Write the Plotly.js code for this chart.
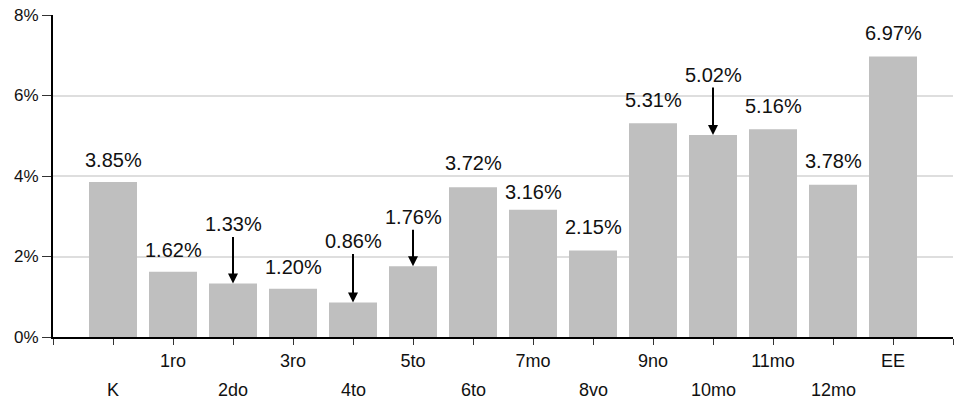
<!DOCTYPE html>
<html>
<head>
<meta charset="utf-8">
<script src="https://cdn.plot.ly/plotly-3.0.1.min.js"></script>
<style>html,body{margin:0;padding:0;background:#fff;}#chart{width:960px;height:402px;}</style>
</head>
<body>
<div id="chart"></div>
<script>
// ---- data ----
var categories = ["K","1ro","2do","3ro","4to","5to","6to","7mo","8vo","9no","10mo","11mo","12mo","EE"];
var values = [3.85, 1.62, 1.33, 1.20, 0.86, 1.76, 3.72, 3.16, 2.15, 5.31, 5.02, 5.16, 3.78, 6.97];
var yTickValues = [0, 2, 4, 6, 8];
var yTickLabels = ["0%", "2%", "4%", "6%", "8%"];

// ---- label styling (pixel offsets of value labels above bars) ----
var labelArrow = [false,false,true,false,true,true,false,false,false,false,true,false,false,false];
var labelLift  = [22, 22, 59, 22, 61, 49, 24, 18, 23, 23, 60, 23, 24, 23];

var FONT = "Liberation Sans, Arial, sans-serif";
var idx = categories.map(function(c, i){ return i; });

var tickvals = [], ticktext = [];
for (var t = -1; t <= categories.length; t++) {
  tickvals.push(t);
  ticktext.push(t >= 0 && t < categories.length && t % 2 === 1 ? categories[t] : "");
}

var annotations = [];
values.forEach(function(v, i){
  var txt = v.toFixed(2) + "%";
  if (labelArrow[i]) {
    annotations.push({
      x: idx[i], y: v, xref: "x", yref: "y", text: txt,
      showarrow: true, ax: 0, ay: -labelLift[i],
      arrowhead: 2, arrowsize: 1, arrowwidth: 2, arrowcolor: "#000", standoff: 0,
      font: {family: FONT, size: 20, color: "#111"}
    });
  } else {
    annotations.push({
      x: idx[i], y: v, xref: "x", yref: "y", text: txt,
      showarrow: false, yanchor: "middle", yshift: labelLift[i],
      font: {family: FONT, size: 20, color: "#111"}
    });
  }
});
// lower row of category labels (even positions)
categories.forEach(function(c, i){
  if (i % 2 === 0) {
    annotations.push({
      x: idx[i], y: 0, xref: "x", yref: "paper", text: c,
      showarrow: false, yanchor: "middle", yshift: -53,
      font: {family: FONT, size: 18, color: "#111"}
    });
  }
});

var trace = {
  type: "bar",
  x: idx,
  y: values,
  width: 0.8,
  marker: {color: "#bfbfbf"},
  hoverinfo: "skip"
};

var layout = {
  width: 960, height: 402,
  margin: {l: 53, r: 7, t: 15, b: 65},
  paper_bgcolor: "#fff", plot_bgcolor: "#fff",
  showlegend: false,
  font: {family: FONT, size: 18, color: "#111"},
  xaxis: {
    type: "linear",
    range: [-1, categories.length],
    tickmode: "array", tickvals: tickvals, ticktext: ticktext,
    ticks: "outside", ticklen: 6, tickwidth: 1, tickcolor: "#333",
    showgrid: false, zeroline: false,
    showline: true, linecolor: "#000", linewidth: 2,
    tickfont: {family: FONT, size: 18, color: "#111"},
    fixedrange: true
  },
  yaxis: {
    range: [0, 8],
    tickmode: "array", tickvals: yTickValues, ticktext: yTickLabels,
    ticks: "outside", ticklen: 9, tickwidth: 1, tickcolor: "#333",
    showgrid: true, gridcolor: "#dedede", gridwidth: 2,
    zeroline: false,
    showline: true, linecolor: "#000", linewidth: 2,
    tickfont: {family: FONT, size: 17, color: "#111"},
    fixedrange: true
  },
  annotations: annotations
};

Plotly.newPlot("chart", [trace], layout, {displayModeBar: false, staticPlot: true});
</script>
</body>
</html>
